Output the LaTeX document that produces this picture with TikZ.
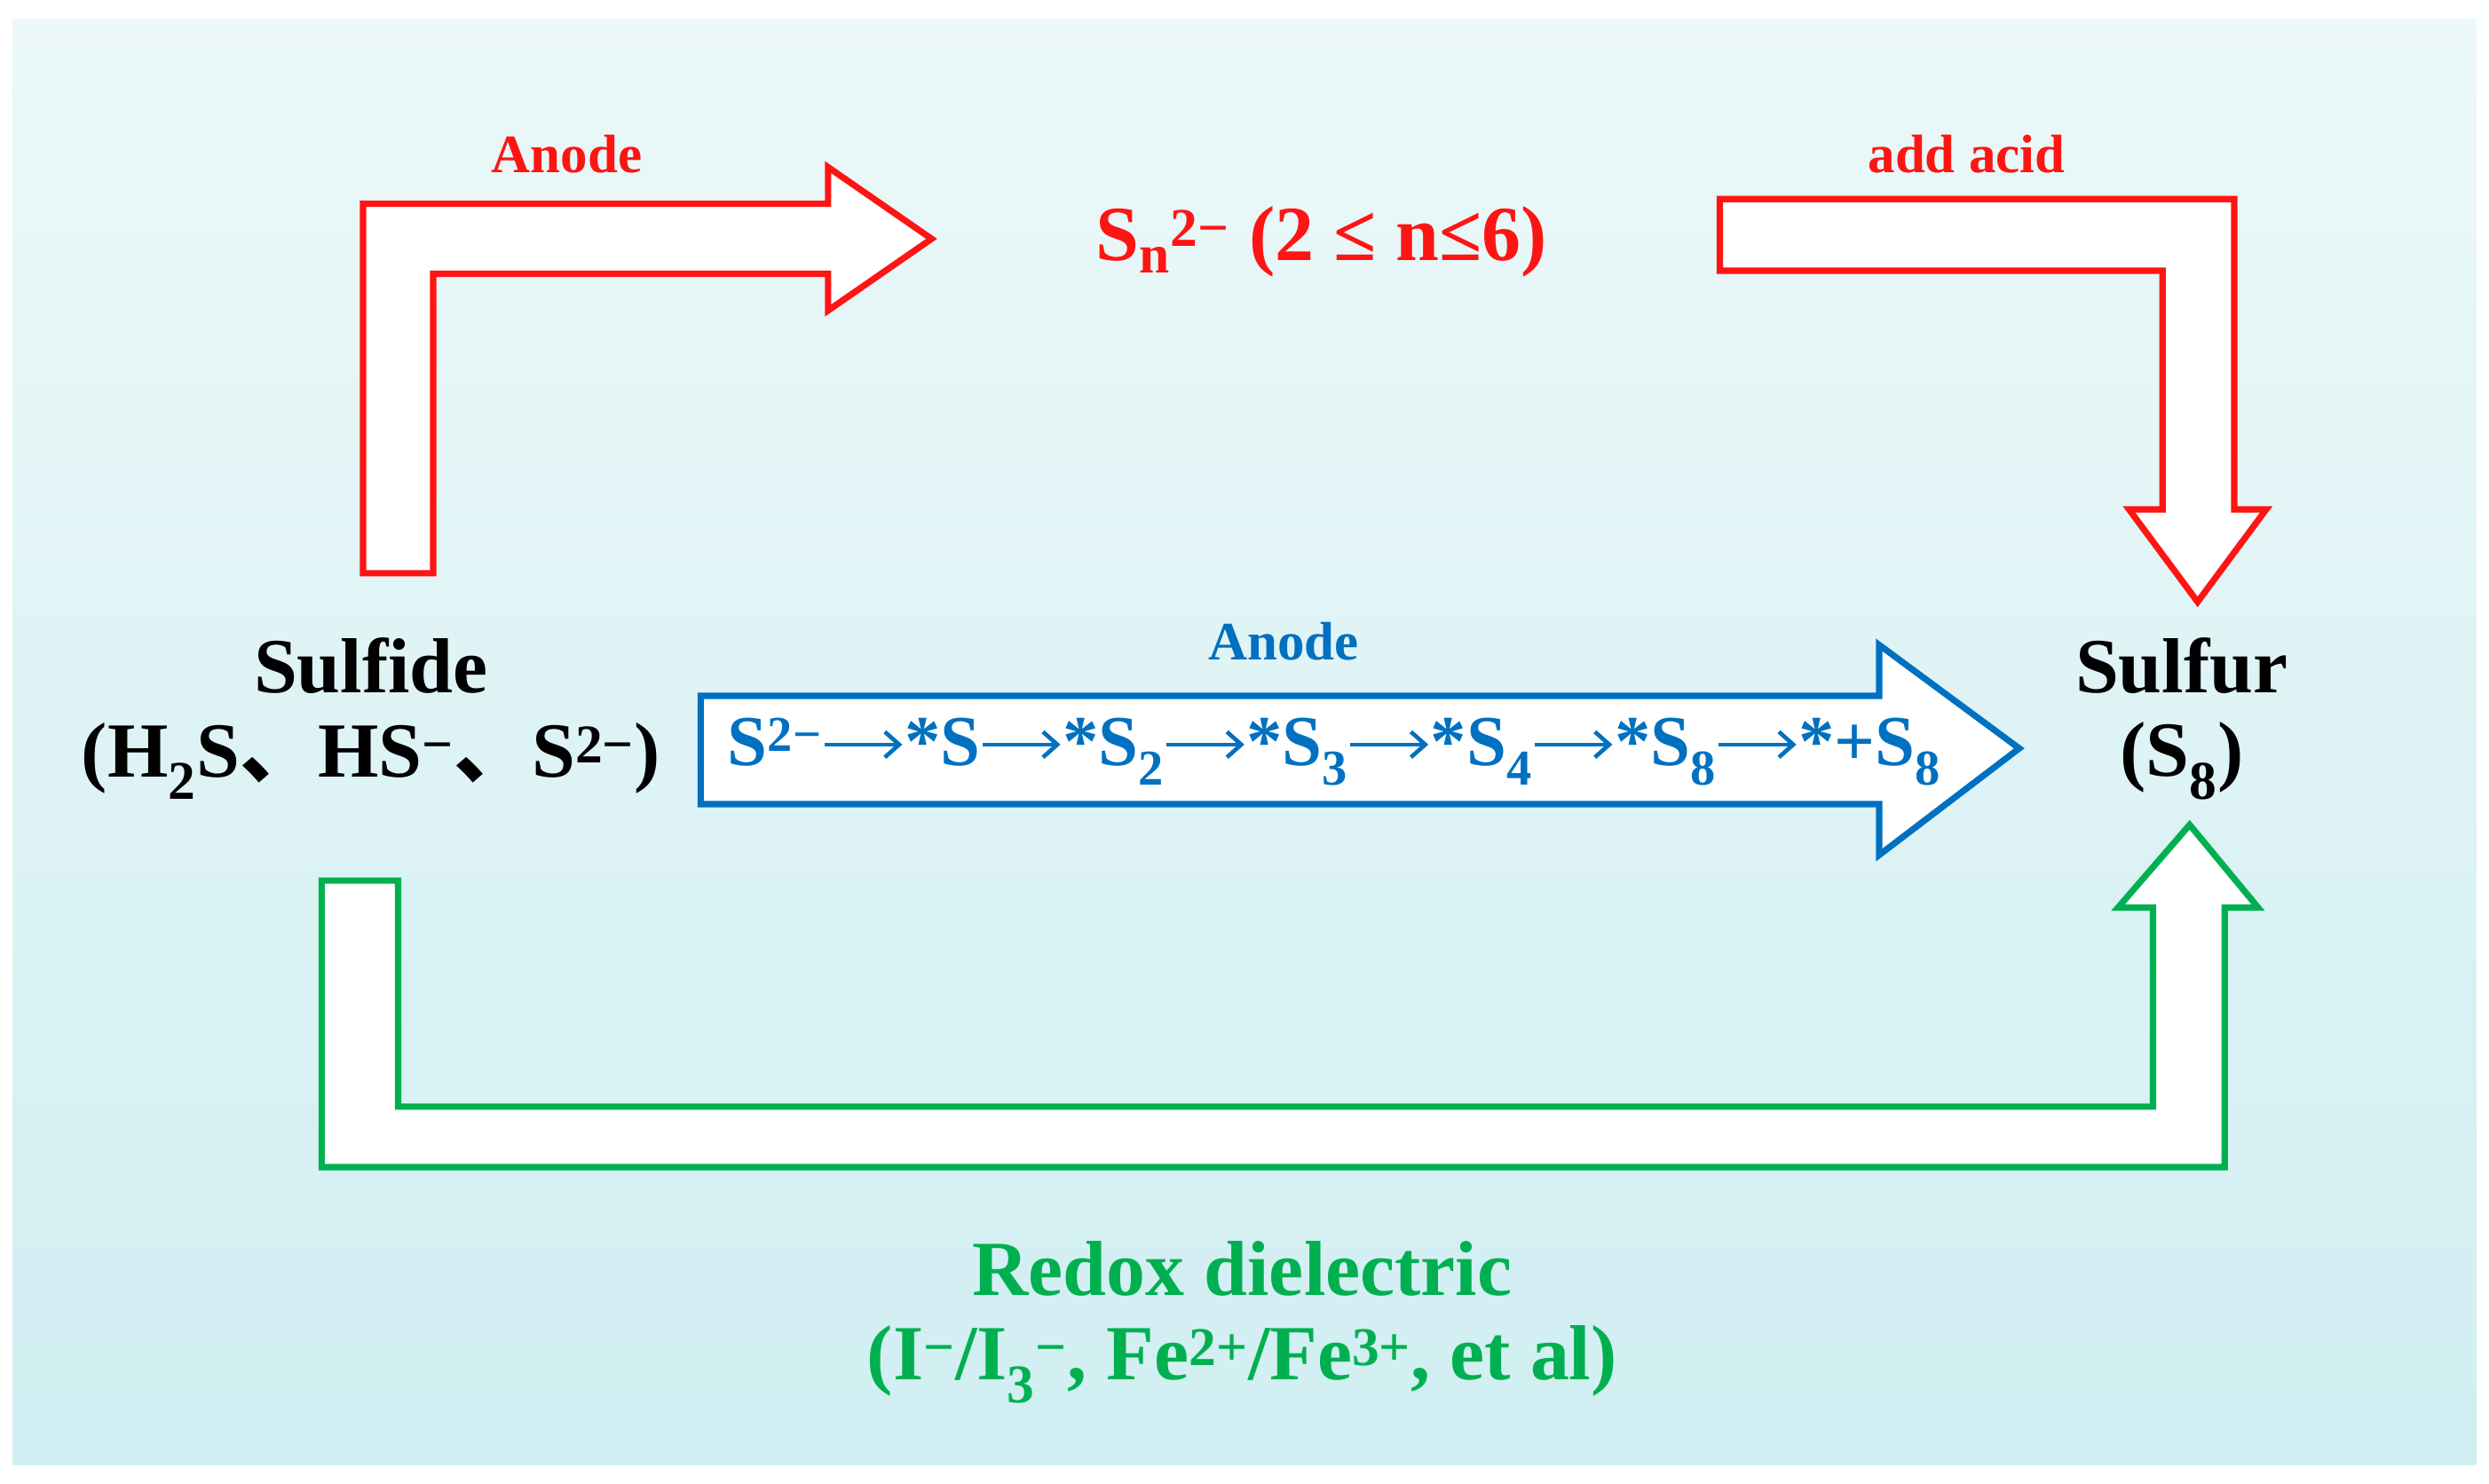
\documentclass[tikz,border=0pt]{standalone}
\usepackage{fontspec}
\setmainfont{Liberation Serif}
\newfontfamily\cjk{Noto Sans CJK SC}
\usetikzlibrary{shadings,arrows.meta}
\definecolor{rd}{RGB}{255,20,20}
\definecolor{bl}{RGB}{0,112,192}
\definecolor{gr}{RGB}{0,176,80}
\definecolor{bgtop}{RGB}{236,248,248}
\definecolor{bgbot}{RGB}{208,238,242}
\newcommand{\ar}{\tikz[baseline=0pt]\draw[bl,line width=2.6pt,-{Straight Barb[length=9pt,width=16pt]}] (1pt,13pt) -- (50pt,13pt);}
\newcommand{\sbs}[1]{\textsubscript{#1}}
\newcommand{\sps}[1]{\textsuperscript{#1}}
\begin{document}
\begin{tikzpicture}[x=1pt,y=-1pt,
  arr/.style={line width=4pt,fill=white,line join=miter},
  big/.style={font=\bfseries\fontsize{49}{51}\selectfont,inner sep=0pt},
  small/.style={font=\bfseries\fontsize{34}{36}\selectfont,inner sep=0pt}]
\useasboundingbox (0,0) rectangle (1563,932);
\fill[white] (0,0) rectangle (1563,932);
\shade[top color=bgtop,bottom color=bgbot] (8,12) rectangle (1555,920);
% red arrow 1
\draw[arr,draw=rd] (228,360) -- (228,128) -- (520,128) -- (520,105) -- (585,150) -- (520,195) -- (520,172) -- (272,172) -- (272,360) -- cycle;
% red arrow 2
\draw[arr,draw=rd] (1080,125) -- (1403,125) -- (1403,320) -- (1423,320) -- (1380,378) -- (1337,320) -- (1358,320) -- (1358,170) -- (1080,170) -- cycle;
% blue arrow
\draw[arr,draw=bl] (440,437) -- (1180,437) -- (1180,405) -- (1268,470) -- (1180,537) -- (1180,505) -- (440,505) -- cycle;
% green arrow
\draw[arr,draw=gr] (202,553) -- (250,553) -- (250,695) -- (1352,695) -- (1352,570) -- (1330,570) -- (1375,518) -- (1418,570) -- (1397,570) -- (1397,733) -- (202,733) -- cycle;
% texts
\node[small,text=rd] (an1) at (356,97) {Anode};
\node[small,text=rd] (aa) at (1235,97) {add acid};
\node[big,text=rd] (sn) at (830,152) {S\sbs{n}\sps{2−} (2 ≤ n≤6)};
\node[big] (sf) at (233,418) {Sulfide};
\node[big] (sf2) at (233,478) {(H\sbs{2}S{\cjk 、}HS\sps{−}{\cjk 、}S\sps{2−})};
\node[small,text=bl] (an2) at (806,403) {Anode};
\node[inner sep=0pt,text=bl,font=\bfseries\fontsize{45}{47}\selectfont] (ch) at (838,472) {S\sps{2−}\ar*S\ar*S\sbs{2}\ar*S\sbs{3}\ar*S\sbs{4}\ar*S\sbs{8}\ar*+S\sbs{8}};
\node[big] (su) at (1370,418) {Sulfur};
\node[big] (su2) at (1370,478) {(S\sbs{8})};
\node[big,text=gr] (rd1) at (780,797) {Redox dielectric};
\node[big,text=gr] (rd2) at (780,857) {(I\sps{−}/I\sbs{3}\sps{−}, Fe\sps{2+}/Fe\sps{3+}, et al)};
\end{tikzpicture}
\end{document}
